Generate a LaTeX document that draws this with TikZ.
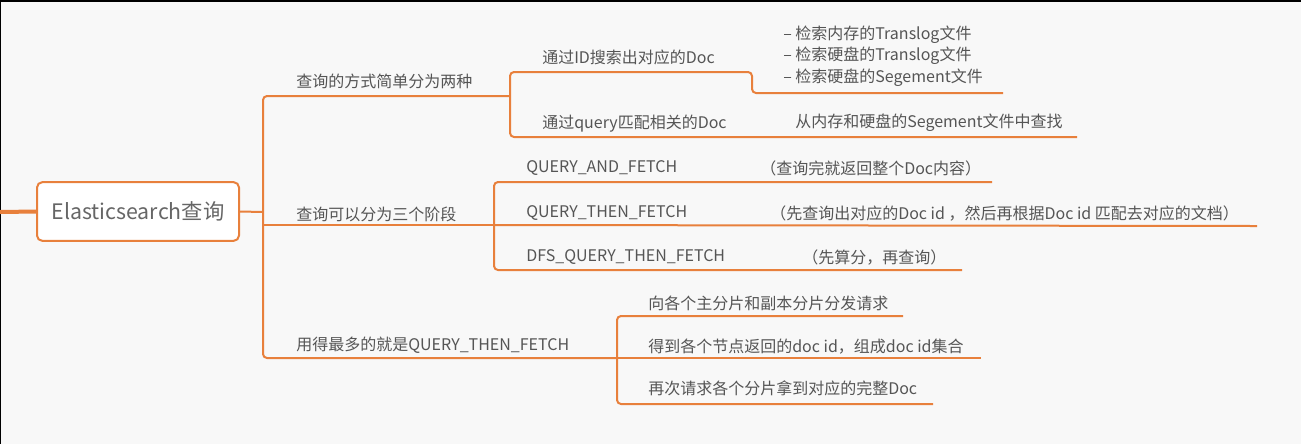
\documentclass[tikz,border=0pt]{standalone}
\usepackage{fontspec}
\setmainfont{Noto Sans CJK SC}
\definecolor{bg}{HTML}{F8F8F8}
\definecolor{brorange}{HTML}{E8803C}
\definecolor{txt}{HTML}{555555}
\begin{document}
\begin{tikzpicture}[x=0.75pt,y=-0.75pt,
  lbl/.style={anchor=west,inner sep=0pt,text=txt,font=\fontsize{12pt}{14pt}\selectfont},
  edge/.style={draw=brorange,line width=1.5pt,rounded corners=3pt},
  rootbox/.style={draw=brorange,line width=1.5pt,fill=white,rounded corners=4pt,
    minimum width=151.5pt,minimum height=44pt,inner sep=0pt,text=txt!90!white,
    font=\fontsize{16pt}{19pt}\selectfont}]
\fill[bg] (0,0) rectangle (1301,444);
\useasboundingbox (0,0) rectangle (1301,444);
\fill[black] (0,0) rectangle (1301,2);
\fill[black] (0,0) rectangle (1,444);

% root
\coordinate (lft) at (0,212);
\node[rootbox] (root) at (138,211.5) {Elasticsearch查询};
\draw[brorange,line width=3pt] (lft) -- (root.west);

% trunk coordinates
\coordinate (tr) at (263,212);
\coordinate (b1a) at (263,96);  \coordinate (b1e) at (510,96);
\coordinate (b2a) at (263,225); \coordinate (b2e) at (494,225);
\coordinate (b3a) at (263,358); \coordinate (b3e) at (617,358);
\draw[edge] (root.east) -- (tr);
\draw[edge] (b1e) -- (b1a) -- (b3a) -- (b3e);
\draw[edge] (b2a) -- (b2e);

% level 1 labels
\node[lbl] (t1) at (296,81) {查询的方式简单分为两种};
\node[lbl] (t2) at (296,214) {查询可以分为三个阶段};
\node[lbl] (t3) at (296,345) {用得最多的就是QUERY\_THEN\_FETCH};

% branch 1 children
\coordinate (s11) at (510,72); \coordinate (s11k) at (752,72);
\coordinate (s11d) at (752,93); \coordinate (s11e) at (1003,93);
\coordinate (s12) at (510,137); \coordinate (s12e) at (1077,137);
\draw[edge] (s11e) -- (s11d) -- (s11k) -- (s11) -- (b1e) -- (s12) -- (s12e);
\node[lbl] (t11) at (542,57) {通过ID搜索出对应的Doc};
\node[lbl] (l1) at (783,35) {– 检索内存的Translog文件};
\node[lbl] (l2) at (783,56) {– 检索硬盘的Translog文件};
\node[lbl] (l3) at (783,78) {– 检索硬盘的Segement文件};
\node[lbl] (t12) at (542,124) {通过query匹配相关的Doc};
\node[lbl] (t121) at (795,123) {从内存和硬盘的Segement文件中查找};

% branch 2 children
\coordinate (s21) at (494,182); \coordinate (s21e) at (992,182);
\coordinate (s22e) at (1257,226);
\coordinate (s23) at (494,270); \coordinate (s23e) at (962,270);
\draw[edge] (s21e) -- (s21) -- (s23) -- (s23e);
\draw[edge] (b2e) -- (s22e);
\node[lbl] (q1) at (526,168) {QUERY\_AND\_FETCH};
\node[lbl] (p1) at (760,168) {（查询完就返回整个Doc内容）};
\node[lbl] (q2) at (526,213) {QUERY\_THEN\_FETCH};
\node[lbl] (p2) at (770,213) {（先查询出对应的Doc id ，然后再根据Doc id 匹配去对应的文档）};
\node[lbl] (q3) at (526,257) {DFS\_QUERY\_THEN\_FETCH};
\node[lbl] (p3) at (802,257) {（先算分，再查询）};

% branch 3 children
\coordinate (s31) at (617,316); \coordinate (s31e) at (903,316);
\coordinate (s32e) at (981,358);
\coordinate (s33) at (617,404); \coordinate (s33e) at (933,404);
\draw[edge] (s31e) -- (s31) -- (s33) -- (s33e);
\draw[edge] (b3e) -- (s32e);
\node[lbl] (r1) at (648,303) {向各个主分片和副本分片分发请求};
\node[lbl] (r2) at (648,347) {得到各个节点返回的doc id，组成doc id集合};
\node[lbl] (r3) at (648,388) {再次请求各个分片拿到对应的完整Doc};
\end{tikzpicture}
\end{document}
